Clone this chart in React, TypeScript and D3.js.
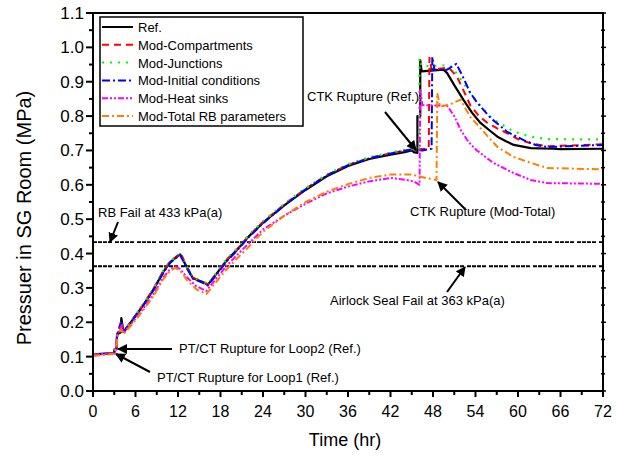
import React from "react";
import { scaleLinear, line, range } from "d3";

const W = 617;
const H = 456;
const plot = { left: 93, right: 603, top: 13, bottom: 391 };

const xTicks = [0, 6, 12, 18, 24, 30, 36, 42, 48, 54, 60, 66, 72];
const yTicks = [0, 0.1, 0.2, 0.3, 0.4, 0.5, 0.6, 0.7, 0.8, 0.9, 1.0, 1.1];

// [time (hr), pressure (MPa)]
const refData: [number, number][] = [
  [0, 0.105], [1, 0.108], [3.0, 0.11], [3.05, 0.122], [3.3, 0.122], [3.4, 0.165], [3.9, 0.17],
  [4.0, 0.212], [4.3, 0.172], [5.7, 0.21], [7.1, 0.25], [8.5, 0.294], [9.9, 0.346], [10.9, 0.375],
  [12.0, 0.393], [12.3, 0.398], [13.3, 0.358], [14.1, 0.328], [15.5, 0.317], [16.2, 0.309],
  [17.5, 0.343], [18.9, 0.381], [20.3, 0.41], [22, 0.45], [24, 0.49], [27, 0.54], [30, 0.585],
  [33, 0.625], [36, 0.655], [39, 0.675], [42, 0.688], [44, 0.695], [45, 0.7], [45.3, 0.695],
  [45.8, 0.693], [45.8, 0.8], [46.2, 0.8], [46.2, 0.963], [46.4, 0.93], [49.5, 0.935], [50, 0.925],
  [51, 0.89], [52.3, 0.847], [53.5, 0.81], [54.7, 0.78], [56, 0.758], [57.1, 0.74], [58.3, 0.727],
  [59.4, 0.716], [61.8, 0.707], [64.9, 0.705], [66, 0.704], [72, 0.705],
];

const compData: [number, number][] = [
  [0, 0.105], [3.0, 0.11], [3.05, 0.122], [3.3, 0.122], [3.4, 0.165], [4.0, 0.205], [4.3, 0.172],
  [5.7, 0.212], [7.1, 0.252], [8.5, 0.296], [9.9, 0.348], [10.9, 0.378], [12.0, 0.395], [12.4, 0.4],
  [13.3, 0.36], [14.1, 0.33], [15.5, 0.318], [16.2, 0.31], [17.5, 0.345], [18.9, 0.383], [20.3, 0.412],
  [22, 0.452], [24, 0.492], [27, 0.543], [30, 0.588], [33, 0.628], [36, 0.658], [39, 0.678],
  [42, 0.692], [45, 0.703], [47.4, 0.705], [47.5, 0.97], [47.8, 0.935], [49.8, 0.94], [50.5, 0.935],
  [51.4, 0.914], [52.3, 0.875], [53.3, 0.83], [54.5, 0.8], [55.7, 0.78], [57, 0.765], [58, 0.755],
  [60.3, 0.73], [62, 0.72], [64.1, 0.712], [72, 0.718],
];

const juncData: [number, number][] = [
  [0, 0.105], [3.0, 0.11], [3.05, 0.122], [3.3, 0.122], [3.4, 0.165], [4.0, 0.2], [4.3, 0.172],
  [5.7, 0.213], [7.1, 0.253], [8.5, 0.297], [9.9, 0.35], [10.9, 0.378], [12.0, 0.394], [12.3, 0.398],
  [13.3, 0.36], [14.1, 0.33], [15.5, 0.319], [16.2, 0.311], [17.5, 0.347], [18.9, 0.385], [20.3, 0.414],
  [22, 0.454], [24, 0.494], [27, 0.545], [30, 0.59], [33, 0.63], [36, 0.66], [39, 0.68],
  [42, 0.694], [45, 0.705], [46.0, 0.705], [46.1, 0.969], [46.4, 0.945], [50.4, 0.948], [51.3, 0.925],
  [52.3, 0.896], [53.5, 0.86], [54.7, 0.83], [56, 0.8], [57.1, 0.783], [59.4, 0.755], [61.8, 0.74],
  [64.1, 0.733], [72, 0.732],
];

const initData: [number, number][] = [
  [0, 0.105], [3.0, 0.11], [3.05, 0.122], [3.3, 0.122], [3.4, 0.165], [4.0, 0.198], [4.3, 0.17],
  [5.7, 0.209], [7.1, 0.249], [8.5, 0.292], [9.9, 0.343], [10.9, 0.373], [12.0, 0.392], [12.3, 0.396],
  [13.3, 0.356], [14.1, 0.327], [15.5, 0.315], [16.2, 0.307], [17.5, 0.34], [18.9, 0.378], [20.3, 0.408],
  [22, 0.448], [24, 0.488], [27, 0.54], [30, 0.587], [33, 0.627], [36, 0.657], [39, 0.677],
  [42, 0.691], [45, 0.703], [46.5, 0.7], [47.8, 0.705], [47.9, 0.972], [48.2, 0.935], [50.0, 0.935],
  [51.3, 0.952], [52.3, 0.911], [53.2, 0.87], [54.2, 0.84], [56.1, 0.795], [58.5, 0.754], [60.8, 0.73],
  [62.5, 0.716], [64.1, 0.71], [72, 0.716],
];

const heatData: [number, number][] = [
  [0, 0.105], [3.0, 0.11], [3.05, 0.12], [3.3, 0.12], [3.4, 0.16], [4.0, 0.19], [4.3, 0.168],
  [5.7, 0.203], [7.1, 0.24], [8.5, 0.28], [9.9, 0.33], [10.9, 0.355], [11.6, 0.362], [12.3, 0.355],
  [13.3, 0.33], [14.6, 0.305], [16, 0.291], [17.5, 0.33], [18.9, 0.365], [20.3, 0.395], [22, 0.43],
  [24, 0.47], [27, 0.51], [30, 0.545], [33, 0.575], [36, 0.595], [39, 0.61], [42, 0.62], [44, 0.615],
  [45.3, 0.61], [46.1, 0.6], [46.2, 0.876], [46.5, 0.832], [50, 0.83], [51, 0.8], [51.9, 0.76],
  [53, 0.725], [54.2, 0.7], [56.5, 0.664], [59.4, 0.634], [61.8, 0.614], [64.1, 0.605], [72, 0.603],
];

const totalData: [number, number][] = [
  [0, 0.102], [3.0, 0.108], [3.05, 0.118], [3.3, 0.12], [3.4, 0.155], [4.0, 0.18], [4.3, 0.165],
  [5.7, 0.198], [7.1, 0.235], [8.5, 0.275], [9.9, 0.325], [10.9, 0.35], [11.6, 0.358], [12.3, 0.35],
  [13.3, 0.322], [14.6, 0.296], [16, 0.282], [17.5, 0.32], [18.9, 0.355], [20.3, 0.385], [22, 0.42],
  [24, 0.463], [27, 0.51], [30, 0.55], [33, 0.58], [36, 0.602], [39, 0.62], [42, 0.63], [45, 0.63],
  [46, 0.625], [47, 0.62], [48.5, 0.614], [48.6, 0.867], [49, 0.827], [50.5, 0.835], [51.9, 0.848],
  [52.5, 0.825], [53.3, 0.797], [54.7, 0.765], [56, 0.735], [57.1, 0.71], [59.4, 0.681],
  [61.8, 0.664], [64.1, 0.649], [72, 0.645],
];

const series = [
  { name: "Ref.", data: refData, color: "#000000", dash: "none", width: 2.2 },
  { name: "Mod-Compartments", data: compData, color: "#ff0000", dash: "7,5", width: 2 },
  { name: "Mod-Junctions", data: juncData, color: "#00ff00", dash: "2,6", width: 2.2 },
  { name: "Mod-Initial conditions", data: initData, color: "#0000ff", dash: "8,3,2,3", width: 2 },
  { name: "Mod-Heat sinks", data: heatData, color: "#ff00ff", dash: "6,2,2,2,2,2", width: 2 },
  { name: "Mod-Total RB parameters", data: totalData, color: "#ff8000", dash: "7,3,2,3", width: 2 },
];

const limits = [
  { value: 0.433, label: "RB Fail at 433 kPa(a)" },
  { value: 0.363, label: "Airlock Seal Fail at 363 kPa(a)" },
];

const FONT = "Arial, 'Liberation Sans', sans-serif";

export default function App() {
  const x = scaleLinear().domain([0, 72]).range([plot.left, plot.right]);
  const y = scaleLinear().domain([0, 1.1]).range([plot.bottom, plot.top]);
  const path = line<[number, number]>()
    .x((d) => x(d[0]))
    .y((d) => y(d[1]));

  const xMinor = range(3, 72, 6);
  const yMinor = range(0.05, 1.1, 0.1);

  return (
    <svg
      width={W}
      height={H}
      style={{ position: "absolute", left: 0, top: 0, background: "#fff" }}
      fontFamily={FONT}
    >
      <defs>
        <marker id="arrow" viewBox="0 0 10 10" refX="9" refY="5" markerWidth="5" markerHeight="5" orient="auto">
          <path d="M0,0 L10,5 L0,10 z" fill="#000" />
        </marker>
        <clipPath id="clip">
          <rect x={plot.left} y={plot.top} width={plot.right - plot.left} height={plot.bottom - plot.top} />
        </clipPath>
      </defs>

      {/* limit lines */}
      {limits.map((l) => (
        <line
          key={l.label}
          x1={plot.left}
          x2={plot.right}
          y1={y(l.value)}
          y2={y(l.value)}
          stroke="#000"
          strokeWidth={1.8}
          strokeDasharray="4,1,4,1,4,1,4,3"
        />
      ))}

      {/* series */}
      <g clipPath="url(#clip)">
        {series.map((s) => (
          <path
            key={s.name}
            d={path(s.data) ?? ""}
            fill="none"
            stroke={s.color}
            strokeWidth={s.width}
            strokeDasharray={s.dash}
            strokeLinejoin="round"
          />
        ))}
      </g>

      {/* frame */}
      <rect
        x={plot.left}
        y={plot.top}
        width={plot.right - plot.left}
        height={plot.bottom - plot.top}
        fill="none"
        stroke="#000"
        strokeWidth={2}
      />

      {/* x axis ticks */}
      {xTicks.map((t) => (
        <g key={`x${t}`}>
          <line x1={x(t)} x2={x(t)} y1={plot.bottom} y2={plot.bottom + 6} stroke="#000" strokeWidth={2} />
          <text x={x(t)} y={plot.bottom + 26} textAnchor="middle" fontSize={16}>
            {t}
          </text>
        </g>
      ))}
      {xMinor.map((t) => (
        <line key={`xm${t}`} x1={x(t)} x2={x(t)} y1={plot.bottom} y2={plot.bottom + 4} stroke="#000" strokeWidth={2} />
      ))}

      {/* y axis ticks */}
      {yTicks.map((t) => (
        <g key={`y${t}`}>
          <line x1={plot.left - 7} x2={plot.left} y1={y(t)} y2={y(t)} stroke="#000" strokeWidth={2} />
          <line x1={plot.right - 2} x2={plot.right + 3} y1={y(t)} y2={y(t)} stroke="#000" strokeWidth={1.5} />
          <text x={plot.left - 9} y={y(t) + 6} textAnchor="end" fontSize={17}>
            {t.toFixed(1)}
          </text>
        </g>
      ))}
      {yMinor.map((t) => (
        <g key={`ym${t.toFixed(2)}`}>
          <line x1={plot.left - 4} x2={plot.left} y1={y(t)} y2={y(t)} stroke="#000" strokeWidth={2} />
          <line x1={plot.right - 2} x2={plot.right + 2} y1={y(t)} y2={y(t)} stroke="#000" strokeWidth={1.5} />
        </g>
      ))}

      {/* axis titles */}
      <text x={345} y={446} textAnchor="middle" fontSize={18}>
        Time (hr)
      </text>
      <text
        transform={`translate(31, 218) rotate(-90)`}
        textAnchor="middle"
        fontSize={20}
      >
        Pressuer in SG Room (MPa)
      </text>

      {/* legend */}
      <rect x={100} y={17} width={203} height={109} fill="#fff" stroke="#000" strokeWidth={1.5} />
      {series.map((s, i) => {
        const ly = 27 + i * 17.8;
        return (
          <g key={`lg${s.name}`}>
            <line x1={102} x2={133} y1={ly} y2={ly} stroke={s.color} strokeWidth={2} strokeDasharray={s.dash} />
            <text x={138} y={ly + 5} fontSize={13}>
              {s.name}
            </text>
          </g>
        );
      })}

      {/* annotations */}
      <g fontSize={13}>
        <text x={98} y={217}>{limits[0].label}</text>
        <line x1={118} y1={222} x2={110} y2={242} stroke="#000" strokeWidth={2} markerEnd="url(#arrow)" />

        <text x={330} y={305}>{limits[1].label}</text>
        <line x1={447} y1={292} x2={465} y2={267} stroke="#000" strokeWidth={2} markerEnd="url(#arrow)" />

        <text x={307} y={101}>CTK Rupture (Ref.)</text>
        <line x1={385} y1={112} x2={416} y2={150} stroke="#000" strokeWidth={2} markerEnd="url(#arrow)" />

        <text x={410} y={216}>CTK Rupture (Mod-Total)</text>
        <line x1={465} y1={209} x2={438} y2={182} stroke="#000" strokeWidth={2} markerEnd="url(#arrow)" />

        <text x={179} y={353}>PT/CT Rupture for Loop2 (Ref.)</text>
        <line x1={172} y1={349} x2={118} y2={349} stroke="#000" strokeWidth={2} markerEnd="url(#arrow)" />

        <text x={157} y={382}>PT/CT Rupture for Loop1 (Ref.)</text>
        <line x1={150} y1={372} x2={116} y2={354} stroke="#000" strokeWidth={2} markerEnd="url(#arrow)" />
      </g>
    </svg>
  );
}
